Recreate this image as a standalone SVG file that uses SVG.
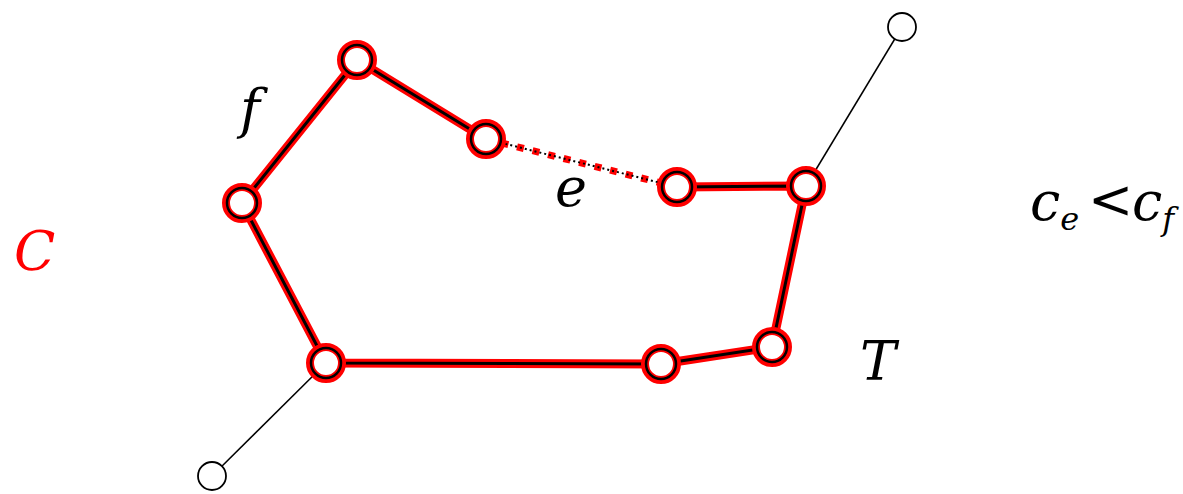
<svg xmlns="http://www.w3.org/2000/svg" width="1183" height="494" viewBox="0 0 1183 494">
<style>
.red{fill:none;stroke:#ff0000;stroke-width:9;stroke-linejoin:round}
.blk{fill:none;stroke:#000;stroke-width:3;stroke-linejoin:round}
.thin{fill:none;stroke:#000;stroke-width:1.5}
.ring{fill:#fff;stroke:#ff0000;stroke-width:8}
.ringb{fill:none;stroke:#000;stroke-width:2.5}
.plain{fill:#fff;stroke:#000;stroke-width:1.8}
.t{font-family:'DejaVu Serif',serif;font-style:italic;font-size:54px}
</style>
<g id="connectors">
<line class="thin" x1="806" y1="186" x2="902" y2="27"/>
<line class="thin" x1="326" y1="363" x2="212" y2="476"/>
<polyline class="red" points="486,139 357,60 242,203 326,363 661,364 772,347 806,186 677,187"/>
<polyline class="blk" points="486,139 357,60 242,203 326,363 661,364 772,347 806,186 677,187"/>
<line x1="486" y1="139" x2="677" y2="187" stroke="#ff0000" stroke-width="7" stroke-dasharray="7,9"/>
<line x1="486" y1="139" x2="677" y2="187" stroke="#000" stroke-width="2" stroke-dasharray="2,3"/>
</g>
<g id="nA"><circle class="ring" cx="357" cy="60" r="16"/><circle class="ringb" cx="357" cy="60" r="15"/></g>
<g id="nB"><circle class="ring" cx="486" cy="139" r="16"/><circle class="ringb" cx="486" cy="139" r="15"/></g>
<g id="nC"><circle class="ring" cx="677" cy="187" r="16"/><circle class="ringb" cx="677" cy="187" r="15"/></g>
<g id="nD"><circle class="ring" cx="806" cy="186" r="16"/><circle class="ringb" cx="806" cy="186" r="15"/></g>
<g id="nE"><circle class="ring" cx="772" cy="347" r="16"/><circle class="ringb" cx="772" cy="347" r="15"/></g>
<g id="nF"><circle class="ring" cx="661" cy="364" r="16"/><circle class="ringb" cx="661" cy="364" r="15"/></g>
<g id="nG"><circle class="ring" cx="326" cy="363" r="16"/><circle class="ringb" cx="326" cy="363" r="15"/></g>
<g id="nH"><circle class="ring" cx="242" cy="203" r="16"/><circle class="ringb" cx="242" cy="203" r="15"/></g>
<g id="nTop"><circle class="plain" cx="902" cy="27" r="14"/></g>
<g id="nBot"><circle class="plain" cx="212" cy="476" r="14"/></g>
<g id="labels">
<text class="t" x="240" y="128">f</text>
<text class="t" x="555" y="206">e</text>
<text class="t" x="860" y="380">T</text>
<text class="t" x="14" y="270" fill="#ff0000">C</text>
<text class="t" x="1030" y="220" font-size="50">c<tspan font-size="32" dy="10">e</tspan></text>
<text class="t" x="1088" y="218" font-size="44" font-style="normal">&lt;</text>
<text class="t" x="1132" y="220" font-size="50">c<tspan font-size="32" dy="10">f</tspan></text>
</g>
</svg>
